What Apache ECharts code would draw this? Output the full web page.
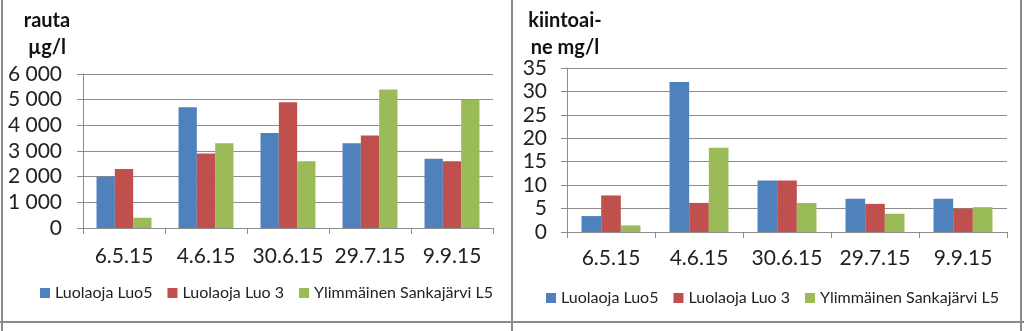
<!DOCTYPE html>
<html><head><meta charset="utf-8">
<script src="https://cdn.jsdelivr.net/npm/echarts@6/dist/echarts.min.js"></script>
<style>html,body{margin:0;padding:0;background:#fff}#c{width:1024px;height:331px}</style>
</head><body><div id="c"></div>
<script>
const categories = ['6.5.15', '4.6.15', '30.6.15', '29.7.15', '9.9.15'];
const seriesNames = ['Luolaoja Luo5', 'Luolaoja Luo 3', 'Ylimmäinen Sankajärvi L5'];
const rautaLuo5 = [2000, 4700, 3700, 3300, 2700];
const rautaLuo3 = [2300, 2900, 4900, 3600, 2600];
const rautaL5 = [400, 3300, 2600, 5400, 5000];
const kiintoLuo5 = [3.4, 32, 11, 7.1, 7.1];
const kiintoLuo3 = [7.8, 6.2, 11, 6.0, 5.0];
const kiintoL5 = [1.4, 18, 6.2, 3.9, 5.3];
const leftTitle = 'rauta\nµg/l';
const rightTitle = 'kiintoai-\nne mg/l';
const colors = ['#4F81BD', '#C0504D', '#9BBB59'];
const FONT = 'Lato, "Open Sans", sans-serif';
const gridCol = '#8c8c8c';

function fmtThousands(v){ return String(v).replace(/\B(?=(\d{3})+(?!\d))/g, ' '); }

function xAxis(gi){ return {
  type:'category', gridIndex:gi, data:categories,
  axisLine:{lineStyle:{color:gridCol,width:1}},
  axisTick:{show:true,length:6,lineStyle:{color:gridCol},alignWithLabel:false},
  axisLabel:{color:'#222',fontFamily:FONT,fontSize:21,interval:0,margin:gi===0?18:16}
};}
function yAxis(gi,max,interval,fmt){ return {
  type:'value', gridIndex:gi, min:0, max:max, interval:interval,
  axisLine:{show:true,lineStyle:{color:gridCol}},
  axisTick:{show:true,length:6,lineStyle:{color:gridCol}},
  splitLine:{lineStyle:{color:gridCol,width:1}},
  axisLabel:{color:'#222',fontFamily:FONT,fontSize:21,margin:gi===0?21:20,formatter:fmt}
};}
function bar(name,data,gi,ci){ return {
  name:name,type:'bar',xAxisIndex:gi,yAxisIndex:gi,data:data,
  barGap:'0%',barCategoryGap:'33%',itemStyle:{color:colors[ci]},animation:false
};}

const chart = echarts.init(document.getElementById('c'));
const legendCommon = {
  data: seriesNames, itemWidth:10, itemHeight:10, itemGap:15, icon:'rect',
  textStyle:{fontFamily:FONT,fontSize:16,color:'#222'}, selectedMode:false
};
chart.setOption({
  animation:false,
  grid:[
    {left:83,right:531,top:74,bottom:103},
    {left:567,right:17,top:68,bottom:99}
  ],
  xAxis:[xAxis(0),xAxis(1)],
  yAxis:[yAxis(0,6000,1000,fmtThousands), yAxis(1,35,5,null)],
  legend:[
    Object.assign({left:35,top:280},legendCommon),
    Object.assign({left:541,top:285},legendCommon)
  ],
  series:[
    bar(seriesNames[0],rautaLuo5,0,0),
    bar(seriesNames[1],rautaLuo3,0,1),
    bar(seriesNames[2],rautaL5,0,2),
    bar(seriesNames[0],kiintoLuo5,1,0),
    bar(seriesNames[1],kiintoLuo3,1,1),
    bar(seriesNames[2],kiintoL5,1,2)
  ],
  graphic:[
    {type:'text',x:47,y:7,style:{text:leftTitle,textAlign:'center',font:'bold 20px '+FONT,fill:'#111',lineHeight:27}},
    {type:'text',x:565,y:7,style:{text:rightTitle,textAlign:'center',font:'bold 20px '+FONT,fill:'#111',lineHeight:27}},
    {type:'line',shape:{x1:2,y1:0,x2:2,y2:331},style:{stroke:'#8a8a8a',lineWidth:2}},
    {type:'line',shape:{x1:512,y1:0,x2:512,y2:331},style:{stroke:'#8a8a8a',lineWidth:2}},
    {type:'line',shape:{x1:1021,y1:0,x2:1021,y2:331},style:{stroke:'#8a8a8a',lineWidth:2}},
    {type:'line',shape:{x1:0,y1:322,x2:1024,y2:322},style:{stroke:'#8a8a8a',lineWidth:2}}
  ]
});
</script></body></html>
